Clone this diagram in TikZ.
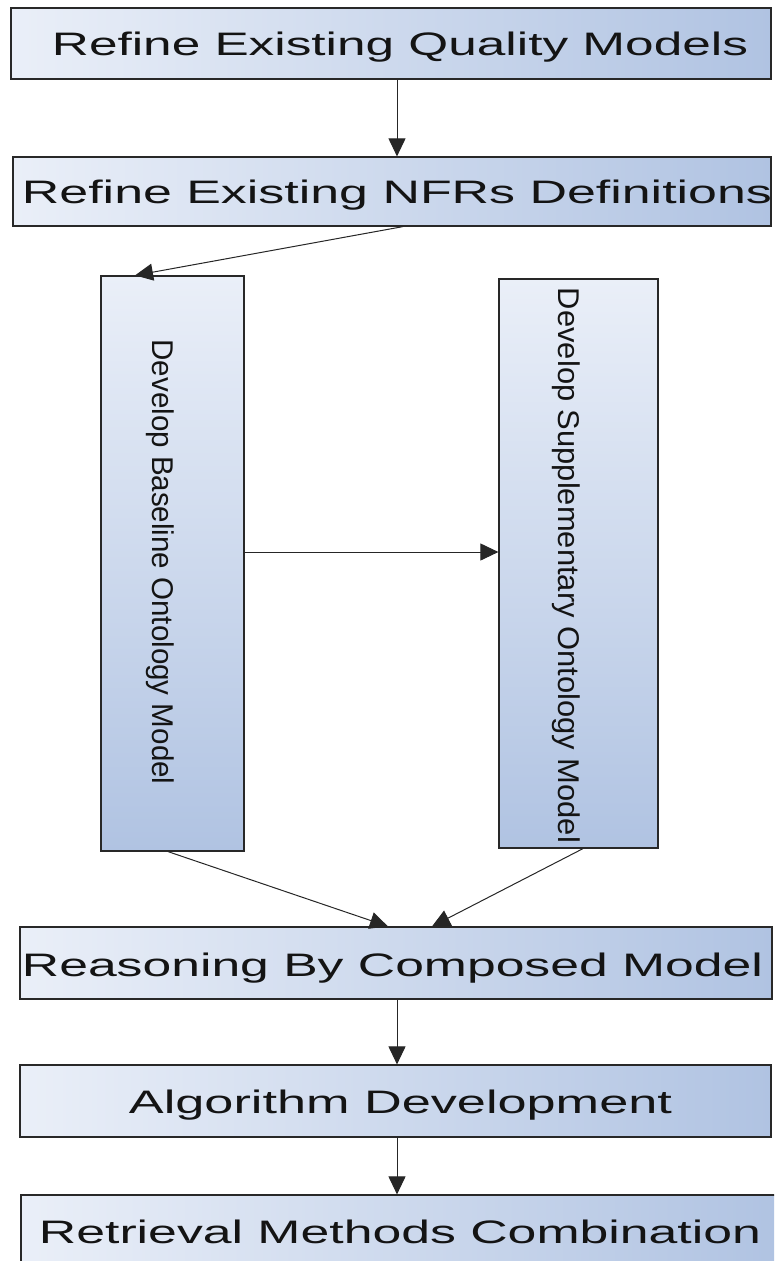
\documentclass[tikz,border=0pt]{standalone}
\usepackage{fontspec}
\setmainfont{Liberation Sans}
\usetikzlibrary{arrows.meta}

\definecolor{boxlight}{RGB}{234,239,248}
\definecolor{boxdark}{RGB}{176,195,226}
\definecolor{boxedge}{RGB}{40,40,40}
\definecolor{inkdark}{RGB}{20,20,20}

% stretch a label horizontally to a given width, keeping its height
\newcommand{\boxtext}[2]{\resizebox{#1}{\height}{#2}}

\tikzset{
  hbox/.style={draw=boxedge, line width=1.2pt, left color=boxlight, right color=boxdark, inner sep=0pt},
  vbox/.style={draw=boxedge, line width=1.2pt, top color=boxlight, bottom color=boxdark, inner sep=0pt},
  hlabel/.style={inner sep=0pt, text=inkdark, font=\fontsize{32.5}{33}\selectfont, anchor=base},
  vlabel/.style={inner sep=0pt, text=inkdark, font=\fontsize{30}{30}\selectfont, rotate=-90, anchor=base},
  flow/.style={draw=black!85, line width=1pt, -{Triangle[length=18pt,width=17pt]}}
}

\begin{document}
\begin{tikzpicture}[x=1pt, y=-1pt]
  \useasboundingbox (0,0) rectangle (774,1261);
  \clip (0,0) rectangle (774,1261);

  % process boxes
  \node[hbox, minimum width=760pt, minimum height=71pt] (q) at (391,43.5) {};
  \node[hbox, minimum width=758pt, minimum height=69pt] (n) at (392,191.5) {};
  \node[vbox, minimum width=143pt, minimum height=575pt] (b) at (172.5,563.5) {};
  \node[vbox, minimum width=159pt, minimum height=569pt] (s) at (578.5,563.5) {};
  \node[hbox, minimum width=752pt, minimum height=72pt] (r) at (396,963) {};
  \node[hbox, minimum width=751pt, minimum height=72pt] (a) at (395.5,1101) {};
  \node[hbox, minimum width=757pt, minimum height=72pt] (m) at (399.5,1231) {};

  % box labels
  \node[hlabel] (qt) at (400,55) {\boxtext{696pt}{Refine Existing Quality Models}};
  \node[hlabel] (nt) at (397,203) {\boxtext{750pt}{Refine Existing NFRs Definitions}};
  \node[vlabel] (bt) at (152,562) {\boxtext{445pt}{Develop Baseline Ontology Model}};
  \node[vlabel] (st) at (558,565.5) {\boxtext{555pt}{Develop Supplementary Ontology Model}};
  \node[hlabel] (rt) at (392.5,976) {\boxtext{741pt}{Reasoning By Composed Model}};
  \node[hlabel] (at) at (400.5,1113) {\boxtext{543pt}{Algorithm Development}};
  \node[hlabel] (mt) at (400,1243) {\boxtext{722pt}{Retrieval Methods Combination}};

  % connectors
  \draw[flow] ([xshift=6pt]q.south) -- ([xshift=5pt]n.north);
  \draw[flow] ([xshift=11pt]n.south) -- ([xshift=-37.5pt]b.north);
  \draw[flow] ([yshift=11.5pt]b.east) -- ([yshift=11.5pt]b.east -| s.west);
  \draw[flow] ([xshift=-4.5pt]b.south) -- ([xshift=-8pt]r.north);
  \draw[flow] ([xshift=4.5pt]s.south) -- ([xshift=36pt]r.north);
  \draw[flow] ([xshift=1pt]r.south) -- ([xshift=1.5pt]a.north);
  \draw[flow] ([xshift=1.5pt]a.south) -- ([xshift=-2.5pt]m.north);
\end{tikzpicture}
\end{document}
